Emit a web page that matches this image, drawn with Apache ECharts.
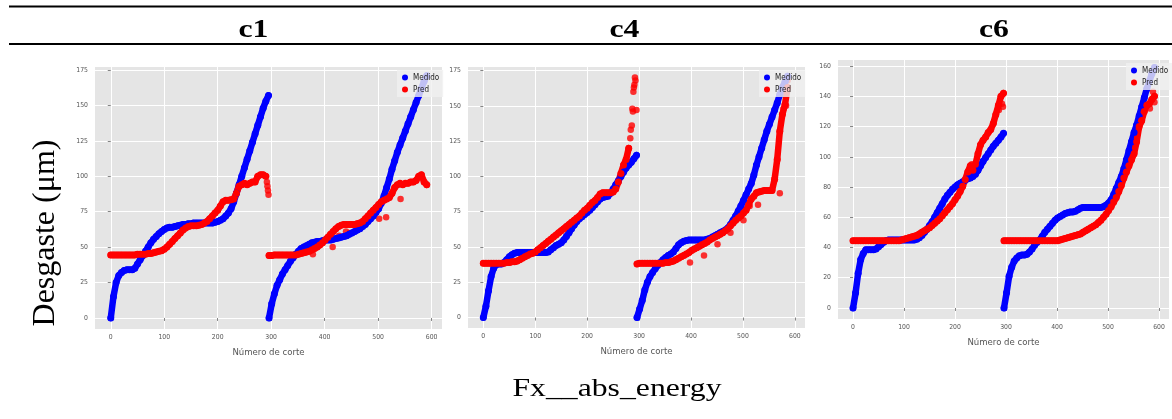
<!DOCTYPE html>
<html>
<head>
<meta charset="utf-8">
<script src="https://cdn.jsdelivr.net/npm/echarts@6/dist/echarts.min.js"></script>
<style>
html,body{margin:0;padding:0;background:#fff;}
#chart{width:1172px;height:419px;}
</style>
</head>
<body>
<div id="chart"></div>
<script>
// ---------- DATA ----------
const panelTitles = ['c1', 'c4', 'c6'];
const seriesNames = ['Medido', 'Pred'];
const xTicks = [0, 100, 200, 300, 400, 500, 600];
const yTicksC1 = [0, 25, 50, 75, 100, 125, 150, 175];
const yTicksC4 = [0, 25, 50, 75, 100, 125, 150, 175];
const yTicksC6 = [0, 20, 40, 60, 80, 100, 120, 140, 160];

// sampled cut numbers (every 5 cuts) for the two runs
const cutsRun1 = [0,5,10,15,20,25,30,35,40,45,50,55,60,65,70,75,80,85,90,95,100,105,110,115,120,125,130,135,140,145,150,155,160,165,170,175,180,185,190,195,200,205,210,215,220,225,230,235,240,245,250,255,260,265,270,275,280,285,290,295];
const cutsRun2 = [296,301,306,311,316,321,326,331,336,341,346,351,356,361,366,371,376,381,386,391,396,401,406,411,416,421,426,431,436,441,446,451,456,461,466,471,476,481,486,491,496,501,506,511,516,521,526,531,536,541,546,551,556,561,566,571,576,581,586,591];

// c1
const c1MedidoRun1 = [0,15,25,30,32,33.5,34,34,34,35, 38,41,44,47,50,53,55.5,57.5,59.5,61, 62.5,63.5,64,64,64.5,65,65.5,66,66,66.5, 66.5,67,67,67,67,67,67,67,67,67.5, 68,69,70,72,74,77,82,88,94,100, 106,112,118,124,130,136,142,148,153,157];
const c1PredRun1 = [44.5,44.5,44.5,44.5,44.5,44.5,44.5,44.5,44.5,44.5, 45,45,45,45,45.5,45.5,46,46.5,47,47.5, 48.5,50,52,54,56,58,60,62,63.5,64.5, 65,65,65,65.5,66,67,68,70,72,74, 76,79,82,83,83,83.5,84,88,93,94, 95,94,95,96,96,100,101,101,100,null];
const c1MedidoRun2 = [0,10,17,23,27,31,34,37,40,42.5, 45,47,49,50,51,52,53,53.5,54,54, 54.5,55,55,55,55.5,56,56.5,57,57.5,58, 59,60,61,62,63,64.5,66,68,70,72, 74.5,77,81,86,92,98,105,111,117,122, 127,132,137,142,147,152,157,162,167,171];
const c1PredRun2 = [44,44,44.5,44.5,44.5,44.5,44.5,44.5,44.5,44.5, 44.5,45,45.5,46,46.5,47,48,49,50,51.5, 53,55,57,59,61,63,64.5,65.5,66,66, 66,66,66,66.5,67,68,70,72,74,76, 78,80,82,83,84,85,88,92,94,95, 94,95,95,96,96,97,100,101,96,94];
const c1PredOutX = [292,293,294,295,378,415,427,440,447,502,515,542];
const c1PredOutY = [96,93,90,87,45,50,58,61,60,70,71,84];

// c4
const c4MedidoRun1 = [0,8,19,29,35,37.5,38,38,39,41, 43,44.5,45.5,46,46,46,46,46,46,46, 46,46,46,46,46,46.5,48,49.5,51,52, 53,55,57.5,60,63,65.5,68,70,71.5,73, 74.5,76,78,80,82,84,85,85.5,86,88, 91,94,97,100,103,106,108,110,112.5,115];
const c4PredRun1 = [38.5,38.5,38.5,38.5,38.5,38.5,38.5,38.5,38.5,39, 39,39.5,39.5,40,41,42,43,44,45,45.5, 46.5,48,49.5,51,52.5,54,55.5,57,58.5,60, 61.5,63,64.5,66,67.5,69,70.5,72,74,76, 77.5,79.5,81.5,83,85,87.5,88.5,88.5,88.5,88.5, 89,91,96,102,108,112,120,null,null,null];
const c4MedidoRun2 = [0,6,12,19.5,25,29,32,34.5,37,39, 41,42.5,44,45,46.5,49,51.5,53,54,54.5, 55,55,55,55,55,55,55,55.5,56,57, 58,59,60,61,62,63.5,66,69,72,75.5, 79,83,87,91,95,101,108,114,120,126, 132,137,142,147,152,158,163,167,171,null];
const c4PredRun2 = [38,38.5,38.5,38.5,38.5,38.5,38.5,38.5,38.5,38.5, 38.5,39,39,39.5,40,41,42,43,44,45, 46,47.5,48.5,49.5,50.5,51.5,52.5,53.5,55,56, 57,58,59,60,61.5,63,65,67,69,70.5, 72,74,76,80,84,86,88.5,89,89.5,90, 90,90,90,98,112,132,144,151,163,null];
const c4PredOutX = [283,284,286,287,288,289,290,291,292,293,295,398,425,451,476,501,513,529,571,578,583,586];
const c4PredOutY = [127,133,136,148,146,160,163,165,170,168,147,39,44,52,60,69,79,80,88,148,150,168];

// c6
const c6MedidoRun1 = [0,10,23,32,36,38.5,38.5,38.5,38.5,39, 40.5,42,43.5,44.5,45,45,45,45,45,45, 45,45,45,45,45,45.5,46.5,48,50,52, 54.5,57,60,63,66,69,72,74.5,76.5,78.5, 80,81.5,82.5,83.5,84.5,85.5,86,87,88.5,91, 94,97,99.5,102,104.5,107,109,111,113,115.5];
const c6PredRun1 = [44.5,44.5,44.5,44.5,44.5,44.5,44.5,44.5,44.5,44.5, 44.5,44.5,44.5,44.5,44.5,44.5,44.5,44.5,44.5,45, 45.5,46,46.5,47,47.5,48,49,50,51,52, 53,54.5,56,57.5,59,61,63,65,67,69, 71.5,74,77,80.5,85,90,94,91,95,102, 108,111,113,116,118,122,128,134,140,142];
const c6MedidoRun2 = [0,10,21,27,31,33,34.5,35,35,35.5, 37,39,41.5,43.5,45,47.5,50,52,54,56, 58,59.5,60.5,61.5,62.5,63,63.5,63.5,64,65, 66,66.5,66.5,66.5,66.5,66.5,66.5,66.5,66.5,67, 68,69.5,71.5,75,79,83,87,92,98,104, 110,116,121,127,133,139,145,150,155,159];
const c6PredRun2 = [44.5,44.5,44.5,44.5,44.5,44.5,44.5,44.5,44.5,44.5, 44.5,44.5,44.5,44.5,44.5,44.5,44.5,44.5,44.5,44.5, 44.5,44.5,45,45.5,46,46.5,47,47.5,48,48.5, 49,50,51,52,53,54,55,56.5,58,60, 62,64.5,67,70,73,77,81,86,90,94, 98,102,110,120,124,130,134,135,138,140];
const c6PredOutX = [233,286,292,294,560,565,582,588,591];
const c6PredOutY = [95,131,135,133,119,123,132,143,136];

// ---------- CHART ----------
const BLUE = '#0000ff', RED = '#ff0000';
const NARROW = "'Liberation Sans Narrow','DejaVu Sans Condensed','Liberation Sans',sans-serif";
const SERIF = "'Liberation Serif','Times New Roman',serif";

function pairs(xs, ys) {
  const out = [];
  for (let i = 0; i < xs.length; i++) if (ys[i] != null) out.push([xs[i], ys[i]]);
  return out;
}
function lineS(name, color, idx, xs, ys) {
  return {
    type: 'line', name: name, xAxisIndex: idx, yAxisIndex: idx,
    data: pairs(xs, ys), showSymbol: true, symbol: 'circle', symbolSize: 7,
    itemStyle: { color: color }, lineStyle: { color: color, width: 6.5, cap: 'round', join: 'round' },
    silent: true, animation: false
  };
}
function scatS(name, color, idx, xs, ys) {
  return {
    type: 'scatter', name: name, xAxisIndex: idx, yAxisIndex: idx,
    data: pairs(xs, ys), symbol: 'circle', symbolSize: 6.5,
    itemStyle: { color: color }, silent: true, animation: false
  };
}

const grids = [
  { left: 95, top: 67, width: 347, height: 262 },
  { left: 468, top: 67, width: 337, height: 261 },
  { left: 838, top: 60, width: 331, height: 259 }
];
const yRanges = [[-7.8, 177.1], [-7.4, 177.5], [-7.3, 164]];
const yTickSets = [yTicksC1, yTicksC4, yTicksC6];

const axisText = { fontSize: 6.8, color: '#555', fontFamily: NARROW };

const xAxes = grids.map((g, i) => ({
  type: 'value', gridIndex: i, min: -29.5, max: 619.5,
  axisLine: { show: false },
  axisTick: { show: true, length: 3, lineStyle: { color: '#666', width: 0.8 }, customValues: xTicks },
  axisLabel: Object.assign({ margin: 5, customValues: xTicks }, axisText),
  splitLine: { show: true, lineStyle: { color: '#ffffff', width: 1 } },
  name: 'Número de corte', nameLocation: 'middle', nameGap: 19,
  nameTextStyle: { fontSize: 9.5, color: '#555', fontFamily: NARROW }
}));
const yAxes = grids.map((g, i) => ({
  type: 'value', gridIndex: i, min: yRanges[i][0], max: yRanges[i][1],
  axisLine: { show: false },
  axisTick: { show: true, length: 3, lineStyle: { color: '#666', width: 0.8 }, customValues: yTickSets[i] },
  axisLabel: Object.assign({ margin: 7, customValues: yTickSets[i] }, axisText),
  splitLine: { show: true, lineStyle: { color: '#ffffff', width: 1 } }
}));

const legendPos = [{ left: 397, top: 70 }, { left: 759, top: 70 }, { left: 1126, top: 63 }];
const legends = legendPos.map(p => ({
  left: p.left, top: p.top, orient: 'vertical', icon: 'circle',
  itemWidth: 6, itemHeight: 6, itemGap: 3, padding: [3, 4, 3, 5],
  backgroundColor: 'rgba(240,240,240,0.8)',
  data: seriesNames, selectedMode: false,
  textStyle: { fontSize: 8, lineHeight: 9, color: '#222', fontFamily: NARROW }
}));

const series = [
  lineS('Medido', BLUE, 0, cutsRun1, c1MedidoRun1),
  lineS('Medido', BLUE, 0, cutsRun2, c1MedidoRun2),
  lineS('Pred', RED, 0, cutsRun1, c1PredRun1),
  lineS('Pred', RED, 0, cutsRun2, c1PredRun2),
  scatS('Pred', RED, 0, c1PredOutX, c1PredOutY),
  lineS('Medido', BLUE, 1, cutsRun1, c4MedidoRun1),
  lineS('Medido', BLUE, 1, cutsRun2, c4MedidoRun2),
  lineS('Pred', RED, 1, cutsRun1, c4PredRun1),
  lineS('Pred', RED, 1, cutsRun2, c4PredRun2),
  scatS('Pred', RED, 1, c4PredOutX, c4PredOutY),
  lineS('Medido', BLUE, 2, cutsRun1, c6MedidoRun1),
  lineS('Medido', BLUE, 2, cutsRun2, c6MedidoRun2),
  lineS('Pred', RED, 2, cutsRun1, c6PredRun1),
  lineS('Pred', RED, 2, cutsRun2, c6PredRun2),
  scatS('Pred', RED, 2, c6PredOutX, c6PredOutY)
];

const titleX = [253.5, 624.5, 994];
const graphics = [
  { type: 'line', shape: { x1: 9, y1: 6.5, x2: 1172, y2: 6.5 }, style: { stroke: '#000', lineWidth: 2.2 }, silent: true },
  { type: 'line', shape: { x1: 9, y1: 44, x2: 1172, y2: 44 }, style: { stroke: '#000', lineWidth: 2.2 }, silent: true }
].concat(panelTitles.map((t, i) => ({
  type: 'text', x: titleX[i], y: 30.5, scaleX: 1.22, silent: true,
  style: { text: t, x: 0, y: 0, align: 'center', verticalAlign: 'middle', fill: '#000',
           font: "bold 26px " + SERIF }
}))).concat([
  { type: 'text', x: 617, y: 389.5, scaleX: 1.22, silent: true,
    style: { text: 'Fx__abs_energy', x: 0, y: 0, align: 'center', verticalAlign: 'middle', fill: '#000',
             font: "26px " + SERIF } },
  { type: 'text', x: 46, y: 233, rotation: Math.PI / 2, silent: true,
    style: { text: 'Desgaste (μm)', x: 0, y: 0, align: 'center', verticalAlign: 'middle', fill: '#000',
             font: "32px " + SERIF } }
]);

const chart = echarts.init(document.getElementById('chart'), null, { renderer: 'canvas' });
chart.setOption({
  backgroundColor: '#ffffff',
  animation: false,
  grid: grids.map(g => Object.assign({ backgroundColor: '#e5e5e5', show: true, borderWidth: 0, containLabel: false, outerBoundsMode: 'none' }, g)),
  xAxis: xAxes,
  yAxis: yAxes,
  legend: legends,
  series: series,
  graphic: graphics
});
</script>
</body>
</html>
